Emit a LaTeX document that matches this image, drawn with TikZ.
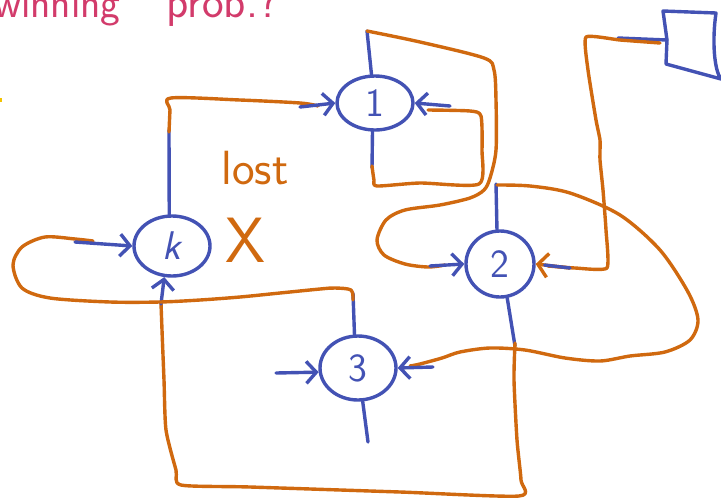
\documentclass[tikz,border=0pt]{standalone}
\usepackage{fontspec}
\usetikzlibrary{shapes.geometric,arrows.meta}
\definecolor{ink}{HTML}{4352B4}
\definecolor{rust}{HTML}{D0690F}
\definecolor{rose}{HTML}{D23B6B}
\definecolor{marker}{HTML}{F2C200}
\begin{document}
\begin{tikzpicture}[x=1pt,y=-1pt,
  state/.style={draw=ink, ellipse, line width=3.4pt, inner sep=0pt,
    font=\fontsize{40}{40}\selectfont\sffamily, text=ink},
  link/.style={draw=ink, line width=3.4pt, line cap=round, line join=round},
  wire/.style={draw=rust, line width=3.4pt, line cap=round, line join=round},
  into/.style={link, -{Straight Barb[length=10pt,width=22pt]}},
  orangetip/.style={wire, -{Straight Barb[length=10pt,width=24pt]}},
  note/.style={font=\fontsize{42}{42}\selectfont\sffamily}]
\useasboundingbox (0,0) rectangle (721,499);
\clip (0,0) rectangle (721,499);

% heading, cut off at the top edge
\node[note, text=rose, anchor=base east] (title1) at (124,17) {winning};
\node[note, text=rose, anchor=base west, font=\fontsize{46}{46}\selectfont\sffamily] (title2) at (163,17) {prob.?};
\fill[marker] (0,98) rectangle (2,102);

% states
\node[state, minimum width=76pt, minimum height=54pt] (n1) at (375,103) {1};
\node[state, minimum width=76pt, minimum height=60pt] (nk) at (172,246) {\itshape k};
\node[state, minimum width=68pt, minimum height=66pt] (n2) at (500,264) {2};
\node[state, minimum width=76pt, minimum height=64pt] (n3) at (358,368) {3};

% target box, top right
\coordinate (sqL) at (667,40);
\draw[link] (sqL) -- (663,11) -- (716,13) .. controls (712,40) and (714,70) .. (721,79) -- (666,64) -- cycle;

% side note
\node[text=rust, font=\fontsize{48}{48}\selectfont\sffamily] (lost) at (255,168) {lost};
\node[text=rust, font=\fontsize{64}{64}\selectfont\sffamily] (cross) at (245,240) {X};

% k -> 1
\coordinate (a1) at (169,130);
\coordinate (a2) at (300,107);
\draw[link] (nk.95) -- (a1);
\draw[wire] plot[smooth, tension=.5] coordinates {(169,132) (170,110) (171,98) (240,100) (300,103) (318,106)};
\draw[into] (a2) -- (n1.west);

% 1 -> 1
\coordinate (b1) at (372,168);
\coordinate (b2) at (450,106);
\draw[link] (n1.265) -- (b1);
\draw[wire] plot[smooth, tension=.4] coordinates {(372,166) (374,180) (377,186) (420,183) (479,184) (482,150) (481,116) (470,111) (428,110)};
\draw[into] (b2) -- (n1.east);

% 1 -> 2
\coordinate (c1) at (367,31);
\coordinate (c2) at (430,266);
\draw[link] (n1.97) -- (c1);
\draw[wire] plot[smooth, tension=.5] coordinates {(367,31) (420,42) (484,58) (494,70) (496,100) (496,150) (490,178) (484,190) (470,198) (440,205) (405,210) (386,220) (377,240) (384,255) (405,264) (428,267) (445,265)};
\draw[into] (c2) -- (n2.west);

% 2 -> 3
\coordinate (d1) at (496,184);
\coordinate (d2) at (433,367);
\draw[link] (n2.95) -- (d1);
\draw[wire] plot[smooth, tension=.5] coordinates {(497,185) (530,186) (570,193) (620,215) (660,250) (688,292) (698,320) (690,340) (665,352) (630,356) (600,361) (565,358) (525,350) (490,348) (460,352) (442,358) (420,364) (410,366)};
\draw[into] (d2) -- (n3.east);

% 2 -> k
\coordinate (e1) at (515,346);
\coordinate (e2) at (161,304);
\draw[link] (n2.282) -- (e1);
\draw[wire] plot[smooth, tension=.4] coordinates {(515,343) (514,380) (517,440) (521,480) (519,496) (400,492) (250,487) (181,485) (176,470) (166,430) (164,380) (162,330) (161,303)};
\draw[into] (e2) -- (nk.256);

% 3 -> k
\coordinate (f1) at (353,293);
\coordinate (f2) at (75,242);
\draw[link] (n3.96) -- (f1);
\draw[wire] plot[smooth, tension=.5] coordinates {(353,300) (351,290) (335,288) (320,289) (280,293) (240,297) (200,300) (160,302) (110,302) (50,298) (22,288) (13,265) (22,247) (45,237) (75,239) (93,241)};
\draw[into] (f2) -- (nk.west);

% box -> 2
\coordinate (g1) at (618,38);
\coordinate (g2) at (570,268);
\draw[link] (sqL) -- (g1);
\draw[wire] plot[smooth, tension=.3] coordinates {(660,43) (620,40) (586,37) (588,70) (596,120) (600,140) (600,160) (603,190) (606,230) (607,268) (575,268) (548,266)};
\draw[orangetip] (g2) -- (n2.east);
\draw[link, shorten >=9pt] (g2) -- (n2.east);

% free ends of 3
\coordinate (h1) at (276,373);
\coordinate (h2) at (368,442);
\draw[into] (h1) -- (n3.186);
\draw[link] (n3.278) -- (h2);
\end{tikzpicture}
\end{document}
